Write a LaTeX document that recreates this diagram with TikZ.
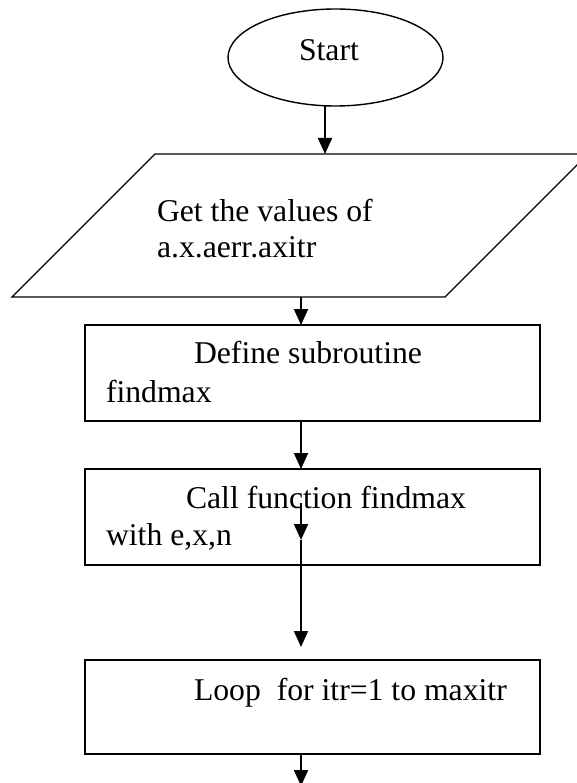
\documentclass[tikz,border=0pt]{standalone}
\usepackage{fontspec}
\setmainfont{Liberation Serif}
\usetikzlibrary{arrows.meta,shapes.geometric}
\begin{document}
\begin{tikzpicture}[x=1pt,y=-1pt,
  shape line/.style={draw=black, line width=1.4pt},
  stepbox/.style={shape line, rectangle, minimum width=455pt, minimum height=96pt, inner sep=0pt, outer sep=0pt},
  label text/.style={anchor=base west, inner sep=0pt, outer sep=0pt, font=\fontsize{31.7pt}{38pt}\selectfont},
  flow/.style={line width=1.8pt, -{Triangle[width=14pt,length=16pt]}}
]
\clip (0,0) rectangle (577,783);

% terminator
\node[shape line, ellipse, minimum width=215pt, minimum height=97pt, inner sep=0pt, outer sep=0pt] (start) at (335.5,57.5) {};
\node[label text] (startlbl) at (299,61) {Start};

% input parallelogram
\draw[shape line] (12,297) -- (155,154) -- (588,154) -- (445,297) -- cycle;
\coordinate (intop) at (325,154);
\coordinate (inbot) at (301,297);
\node[label text] (get1) at (157,222) {Get the values of};
\node[label text] (get2) at (157,258) {a.x.aerr.axitr};

% process boxes
\node[stepbox] (define) at (312.5,373) {};
\node[label text] (def1) at (194,363) {Define subroutine};
\node[label text] (def2) at (106,402) {findmax};

\node[stepbox] (call) at (312.5,517) {};
\node[label text] (call1) at (186,508) {Call function findmax};
\node[label text] (call2) at (106,545) {with e,x,n};

\node[stepbox, minimum height=94pt] (loop) at (312.5,707) {};
\node[label text] (looplbl) at (194,700) {Loop\ \ for itr=1 to maxitr};

% connectors
\coordinate (spine) at (301,0);
\coordinate (mida) at (301,503);
\coordinate (midb) at (301,540);
\coordinate (loopin) at (301,647);
\coordinate (loopout) at (301,786);

\draw[flow] (start.south -| intop) -- (intop);
\draw[flow] (inbot) -- (define.north -| spine);
\draw[flow] (define.south -| spine) -- (call.north -| spine);
\draw[flow] (mida) -- (midb);
\draw[flow] (midb) -- (loopin);
\draw[flow] (loop.south -| spine) -- (loopout);
\end{tikzpicture}
\end{document}
